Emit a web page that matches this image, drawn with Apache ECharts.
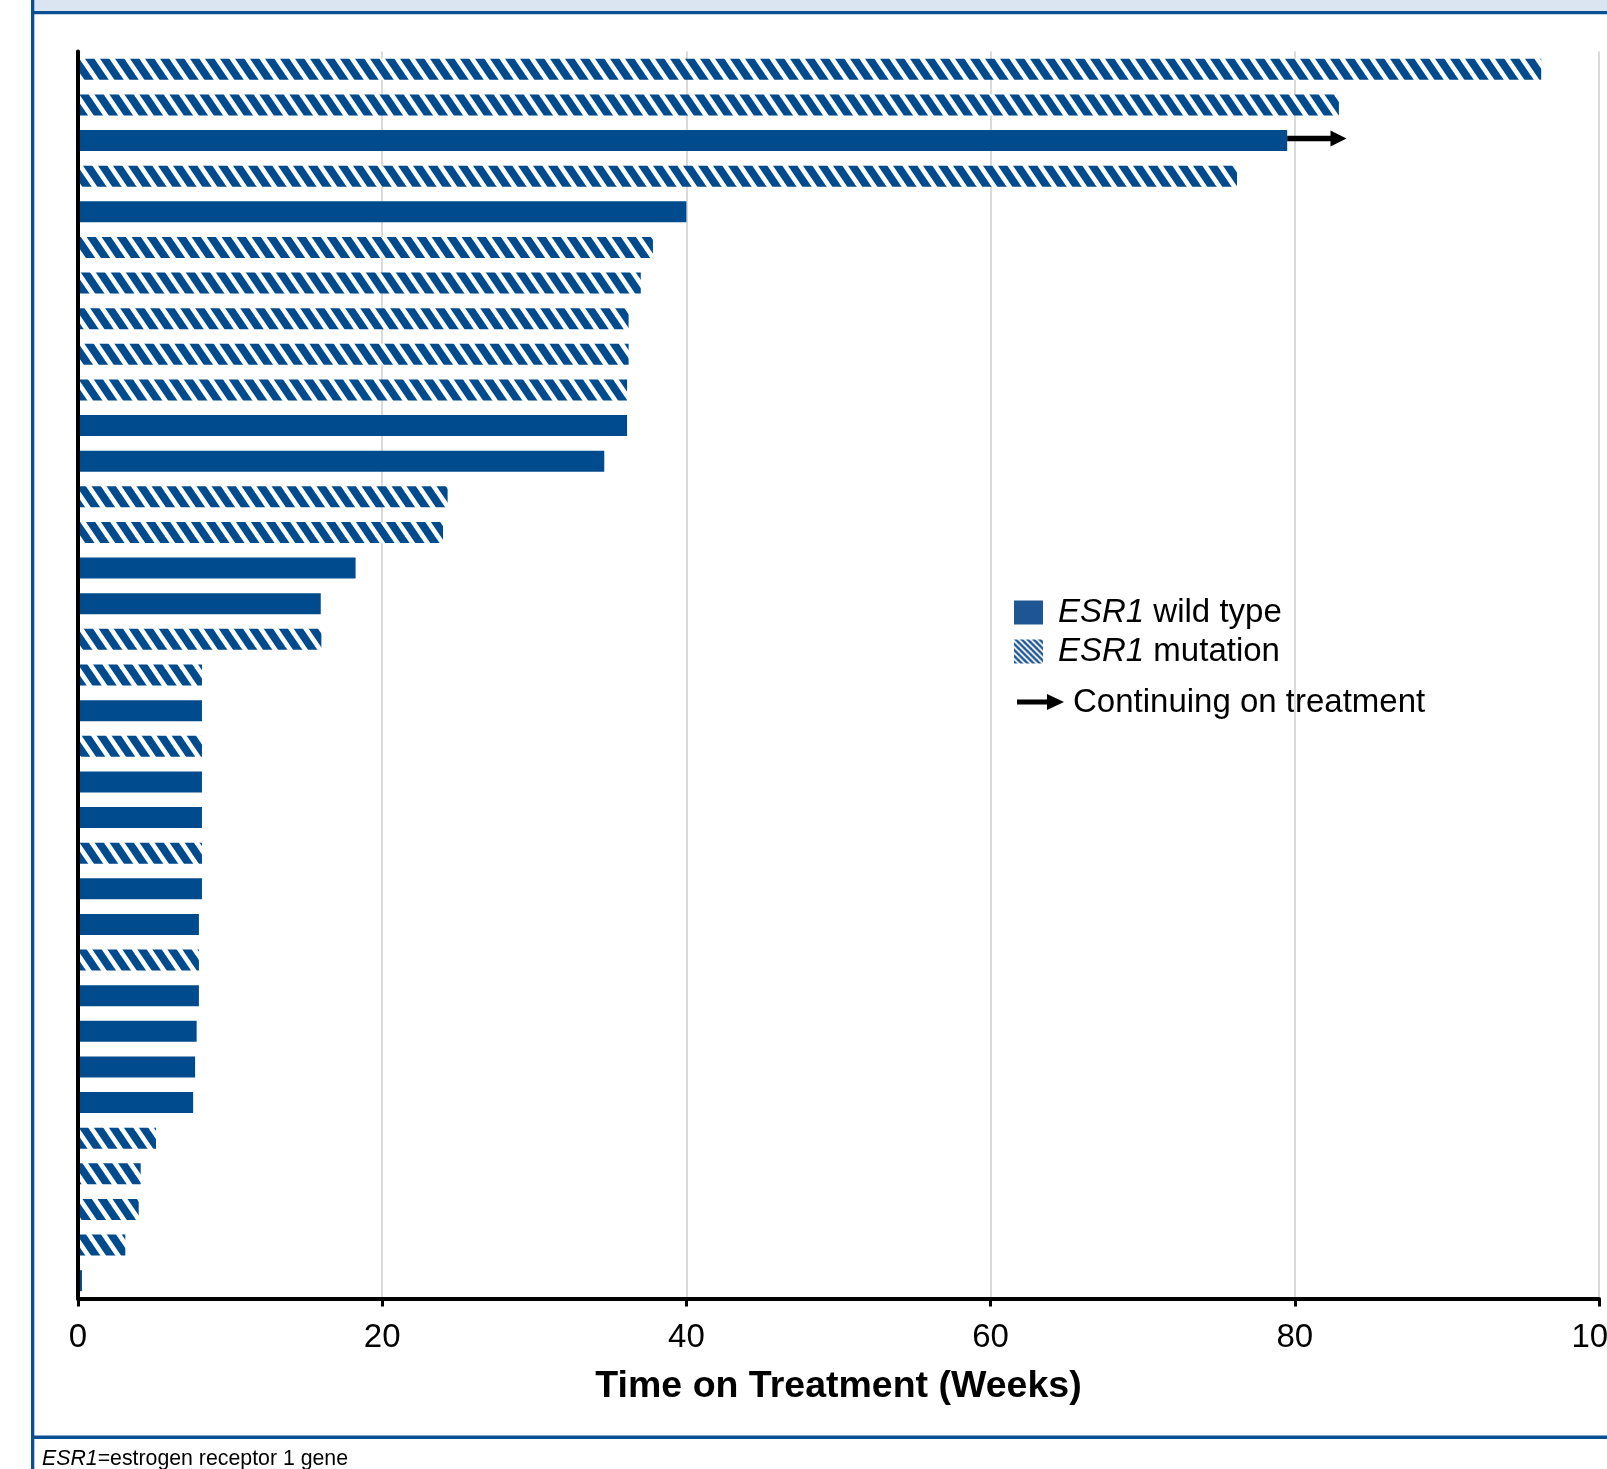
<!DOCTYPE html>
<html>
<head>
<meta charset="utf-8">
<title>Time on Treatment by ESR1 Status</title>
<script src="https://cdn.jsdelivr.net/npm/echarts@6/dist/echarts.min.js"></script>
<style>
  html, body { margin: 0; padding: 0; background: #ffffff; }
  #chart { width: 1607px; height: 1469px; }
</style>
</head>
<body>
<div id="chart"></div>
<script>
// One row per patient, ordered from longest to shortest time on treatment.
const patients = Array.from({ length: 35 }, (_, i) => 'Patient ' + (i + 1));

// Weeks on treatment for each patient.
const weeks = [
  96.2, 82.9, 79.5, 76.2, 40.0, 37.8, 37.0, 36.2, 36.2, 36.1,
  36.1, 34.6, 24.3, 24.0, 18.25, 15.96, 16.0, 8.15, 8.15, 8.15,
  8.15, 8.15, 8.15, 8.15, 7.95, 7.95, 7.95, 7.8, 7.7, 7.57,
  5.13, 4.12, 3.99, 3.11, 0.26
];

// ESR1 status per patient: 'W' = wild type, 'M' = mutation.
const esr1Status = [
  'M', 'M', 'W', 'M', 'W', 'M', 'M', 'M', 'M', 'M',
  'W', 'W', 'M', 'M', 'W', 'W', 'M', 'M', 'W', 'M',
  'W', 'W', 'M', 'W', 'W', 'M', 'W', 'W', 'W', 'W',
  'M', 'M', 'M', 'M', 'W'
];

// Patients still on treatment: [row index, weeks reached by the arrow tip].
const continuing = [[2, 83.4]];

const xTicks = { min: 0, max: 100, step: 20 };

const BLUE = '#004b8d';
const FONT = '"Liberation Sans", Arial, Helvetica, sans-serif';

// Diagonal hatch tile ("\\" stripes) used for the mutation bars.
function makeHatch(period, height, band, color) {
  const c = document.createElement('canvas');
  c.width = period;
  c.height = height;
  const ctx = c.getContext('2d');
  ctx.fillStyle = '#ffffff';
  ctx.fillRect(0, 0, period, height);
  ctx.fillStyle = color;
  for (let k = -2; k <= 2; k++) {
    const x0 = k * period;
    ctx.beginPath();
    ctx.moveTo(x0, 0);
    ctx.lineTo(x0 + band, 0);
    ctx.lineTo(x0 + band + period, height);
    ctx.lineTo(x0 + period, height);
    ctx.closePath();
    ctx.fill();
  }
  return { image: c, repeat: 'repeat' };
}

const barHatch = makeHatch(15, 22, 9.3, BLUE);
const legendHatch = makeHatch(6, 6, 3.4, '#1e5593');

const wildData = weeks.map((w, i) => (esr1Status[i] === 'W' ? w : null));
const mutData = weeks.map((w, i) => (esr1Status[i] === 'M' ? w : null));
const arrowData = continuing.map(([row, tip]) => [weeks[row], tip, row]);

const chart = echarts.init(document.getElementById('chart'), null, { renderer: 'canvas' });

const option = {
  backgroundColor: '#ffffff',
  animation: false,
  textStyle: { fontFamily: FONT },
  grid: { left: 78, right: 8, top: 51.5, bottom: 170.5, containLabel: false, outerBoundsMode: 'none' },
  xAxis: {
    type: 'value',
    min: xTicks.min,
    max: xTicks.max,
    interval: xTicks.step,
    name: 'Time on Treatment (Weeks)',
    nameLocation: 'middle',
    nameGap: 69,
    nameTextStyle: { fontSize: 37.5, fontWeight: 'bold', color: '#000', fontFamily: FONT },
    axisLine: { show: true, lineStyle: { color: '#000', width: 4 } },
    axisTick: { show: true, length: 8, lineStyle: { color: '#000', width: 3 } },
    axisLabel: { fontSize: 33, color: '#000', margin: 23, fontFamily: FONT, hideOverlap: false },
    splitLine: { show: true, lineStyle: { color: '#dadada', width: 2 } }
  },
  yAxis: {
    type: 'category',
    inverse: true,
    data: patients,
    z: 5,
    axisLine: { show: true, lineStyle: { color: '#000', width: 4 } },
    axisTick: { show: false },
    axisLabel: { show: false },
    splitLine: { show: false }
  },
  legend: {
    orient: 'vertical',
    left: 1014,
    top: 596,
    padding: 0,
    itemWidth: 29,
    itemHeight: 24,
    itemGap: 6,
    selectedMode: false,
    formatter: name => name.replace('ESR1', '{i|ESR1}'),
    textStyle: {
      fontSize: 33,
      color: '#000',
      fontFamily: FONT,
      lineHeight: 24,
      padding: [0, 0, 0, 10],
      rich: { i: { fontStyle: 'italic', fontSize: 33, lineHeight: 24, color: '#000', fontFamily: FONT } }
    },
    data: [
      { name: 'ESR1 wild type', icon: 'rect', itemStyle: { color: '#1e5593' } },
      { name: 'ESR1 mutation', icon: 'rect', itemStyle: { color: legendHatch } }
    ]
  },
  series: [
    {
      name: 'ESR1 wild type',
      type: 'bar',
      stack: 'rows',
      barWidth: 21,
      itemStyle: { color: BLUE },
      data: wildData
    },
    {
      name: 'ESR1 mutation',
      type: 'bar',
      stack: 'rows',
      barWidth: 21,
      itemStyle: { color: barHatch },
      data: mutData
    },
    {
      name: 'Continuing on treatment',
      type: 'custom',
      encode: { x: [0, 1], y: 2 },
      z: 4,
      data: arrowData,
      renderItem: (params, api) => {
        const start = api.coord([api.value(0), api.value(2)]);
        const tip = api.coord([api.value(1), api.value(2)]);
        const y = start[1] - 2;
        const head = 16;
        return {
          type: 'group',
          children: [
            {
              type: 'line',
              shape: { x1: start[0], y1: y, x2: tip[0] - head + 2, y2: y },
              style: { stroke: '#000', lineWidth: 5.5 }
            },
            {
              type: 'polygon',
              shape: { points: [[tip[0] - head, y - 8], [tip[0], y], [tip[0] - head, y + 8]] },
              style: { fill: '#000' }
            }
          ]
        };
      }
    }
  ],
  graphic: [
    // Figure frame: header band, left border, footer rule.
    { type: 'rect', left: 33, top: 0, shape: { width: 1574, height: 11 }, style: { fill: '#dbe5f1' }, silent: true },
    { type: 'rect', left: 31, top: 11, shape: { width: 1576, height: 3.3 }, style: { fill: '#0b4f93' }, silent: true },
    { type: 'rect', left: 31, top: 0, shape: { width: 3.3, height: 1469 }, style: { fill: '#0b4f93' }, silent: true },
    { type: 'rect', left: 31, top: 1435.5, shape: { width: 1576, height: 3.5 }, style: { fill: '#0b4f93' }, silent: true },
    // Footnote.
    {
      type: 'text',
      x: 42,
      y: 1459,
      style: {
        text: '{i|ESR1}=estrogen receptor 1 gene',
        fontSize: 21.3,
        fontFamily: FONT,
        fill: '#000',
        verticalAlign: 'middle',
        rich: { i: { fontStyle: 'italic', fontSize: 21.3, fontFamily: FONT, fill: '#000' } }
      },
      silent: true
    },
    // Legend entry for the continuing-treatment arrow.
    {
      type: 'group',
      silent: true,
      children: [
        { type: 'line', shape: { x1: 1017, y1: 702, x2: 1050, y2: 702 }, style: { stroke: '#000', lineWidth: 5 } },
        { type: 'polygon', shape: { points: [[1047, 694], [1064, 702], [1047, 710]] }, style: { fill: '#000' } },
        {
          type: 'text',
          x: 1073,
          y: 703,
          style: { text: 'Continuing on treatment', fontSize: 33, fontFamily: FONT, fill: '#000', verticalAlign: 'middle' }
        }
      ]
    }
  ]
};

chart.setOption(option);
</script>
</body>
</html>
